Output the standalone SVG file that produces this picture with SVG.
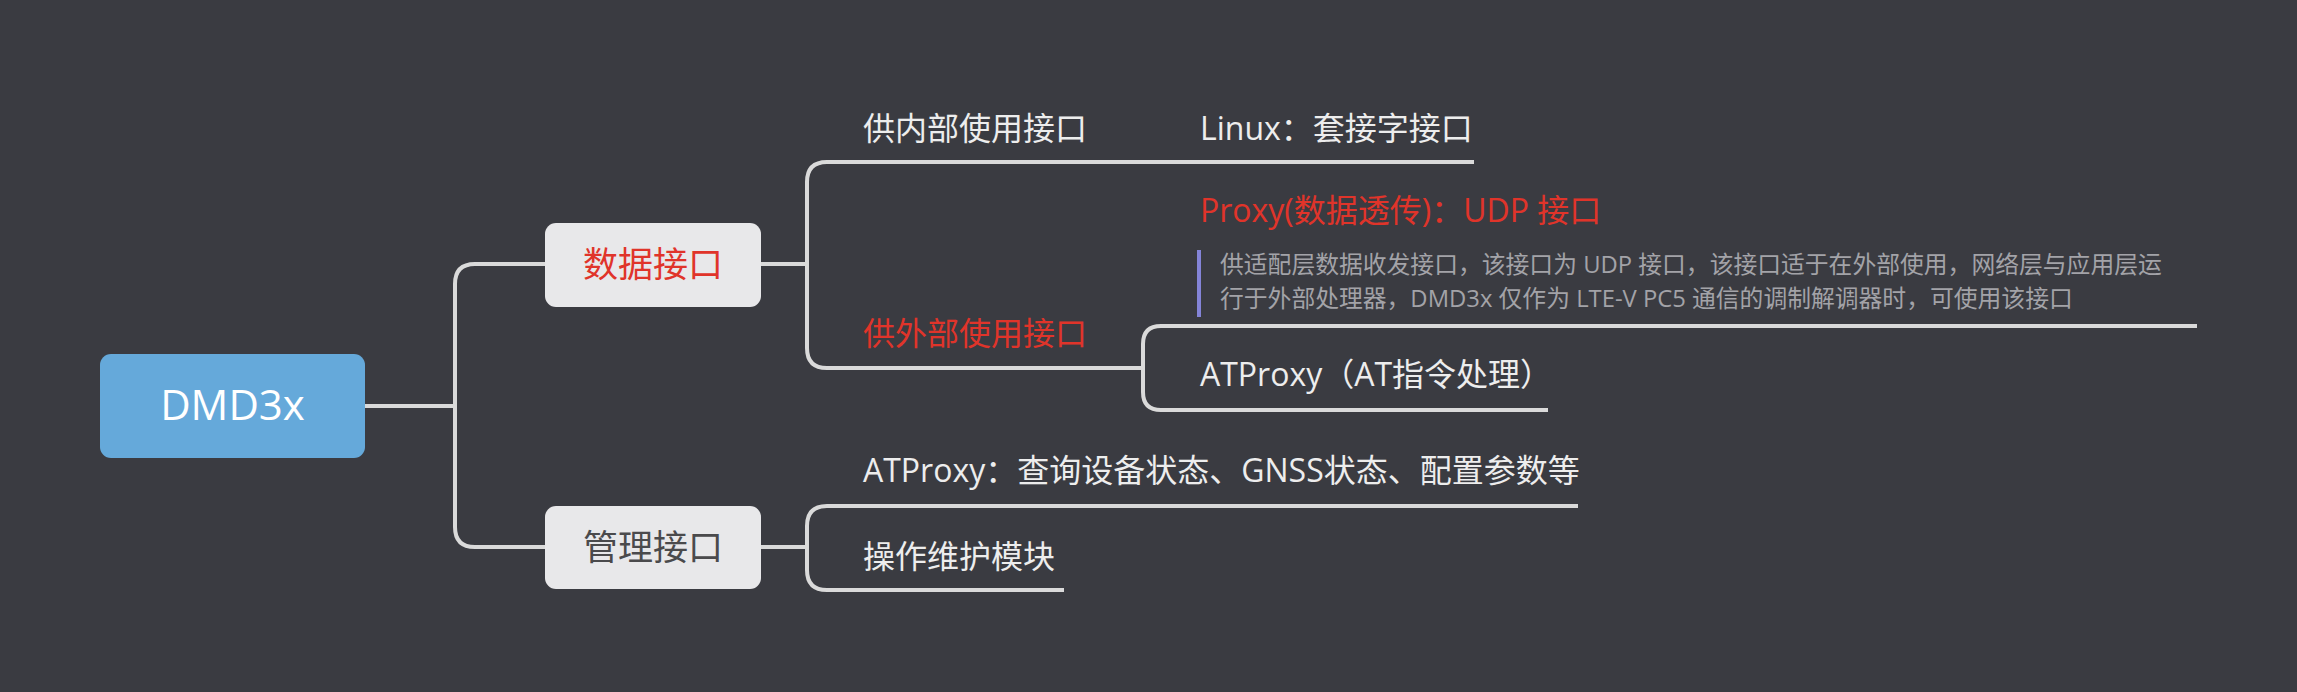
<svg xmlns="http://www.w3.org/2000/svg" width="2297" height="692" viewBox="0 0 2297 692">
<style>
.t{font-family:"Open Sans","Noto Sans CJK SC",sans-serif}
.topic{font-size:32px;fill:#EDEDED}
.red{fill:#E0342A}
.note{font-size:23.8px;fill:#A3A3A8}
.ln{fill:none;stroke:#DADADA;stroke-width:4;stroke-linecap:butt}
</style>
<rect x="0" y="0" width="2297" height="692" fill="#3A3B41"/>
<g id="connectors">
<path class="ln" d="M365,406 H455"/>
<path class="ln" d="M545,264 H475 Q455,264 455,284 V527 Q455,547 475,547 H545"/>
<path class="ln" d="M761,264 H807"/>
<path class="ln" d="M1474,162 H827 Q807,162 807,182 V348 Q807,368 827,368 H1143"/>
<path class="ln" d="M2197,326 H1161 Q1143,326 1143,344 V392 Q1143,410 1161,410 H1548"/>
<path class="ln" d="M761,547 H807"/>
<path class="ln" d="M1578,506 H827 Q807,506 807,526 V570 Q807,590 827,590 H1064"/>
</g>
<g id="root">
<rect x="100" y="354" width="265" height="104" rx="11" fill="#65A9DA"/>
<text class="t" x="232.5" y="420" font-size="42" fill="#FFFFFF" text-anchor="middle">DMD3x</text>
</g>
<g id="data-interface">
<rect x="545" y="223" width="216" height="84" rx="11" fill="#E8E8EA"/>
<text class="t red" x="653" y="277" font-size="35" text-anchor="middle">数据接口</text>
</g>
<g id="mgmt-interface">
<rect x="545" y="506" width="216" height="83" rx="11" fill="#E8E8EA"/>
<text class="t" x="653" y="560" font-size="35" fill="#4A4A4C" text-anchor="middle">管理接口</text>
</g>
<g id="internal">
<text class="t topic" x="863" y="140">供内部使用接口</text>
</g>
<g id="linux">
<text class="t topic" x="1200" y="140">Linux：套接字接口</text>
</g>
<g id="external">
<text class="t topic red" x="863" y="345">供外部使用接口</text>
</g>
<g id="proxy">
<text class="t topic red" x="1200" y="222">Proxy(数据透传)：UDP 接口</text>
<rect x="1197" y="250" width="4" height="67" fill="#8484D8"/>
<text class="t note" x="1220" y="273">供适配层数据收发接口，该接口为 UDP 接口，该接口适于在外部使用，网络层与应用层运</text>
<text class="t note" x="1220" y="307">行于外部处理器，DMD3x 仅作为 LTE-V PC5 通信的调制解调器时，可使用该接口</text>
</g>
<g id="atproxy">
<text class="t topic" x="1200" y="386">ATProxy（AT指令处理）</text>
</g>
<g id="atproxy-query">
<text class="t topic" x="863" y="482">ATProxy：查询设备状态、GNSS状态、配置参数等</text>
</g>
<g id="om">
<text class="t topic" x="863" y="568">操作维护模块</text>
</g>
</svg>
